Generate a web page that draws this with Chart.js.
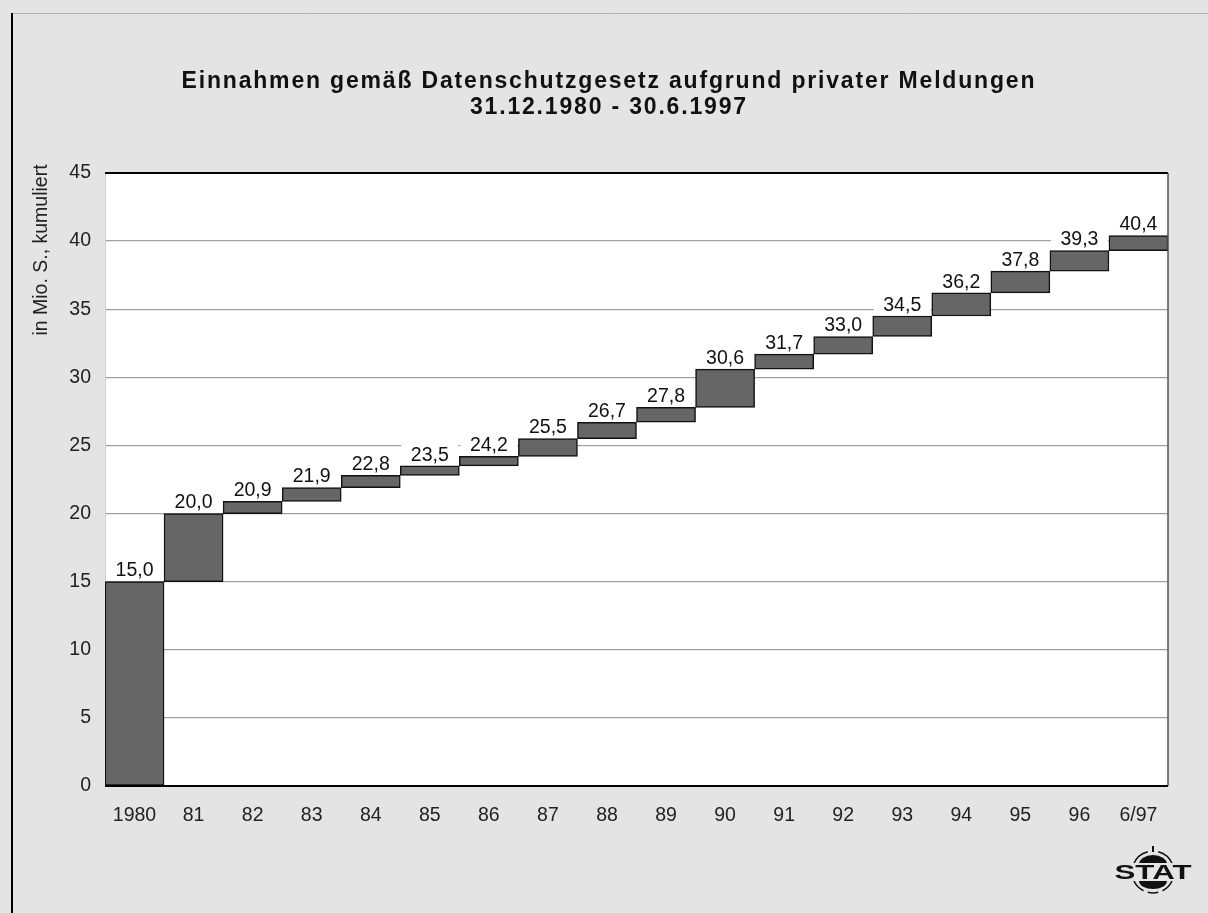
<!DOCTYPE html>
<html>
<head>
<meta charset="utf-8">
<script src="https://cdn.jsdelivr.net/npm/chart.js"></script>
<style>
  html, body { margin: 0; padding: 0; background: #e4e4e4; }
  #wrap { width: 1208px; height: 913px; position: relative; }
</style>
</head>
<body>
<div id="wrap"><canvas id="chart" width="1208" height="913"></canvas></div>
<script>
  // Data
  const categories = ['1980', '81', '82', '83', '84', '85', '86', '87', '88', '89', '90', '91', '92', '93', '94', '95', '96', '6/97'];
  const cumulative = [15.0, 20.0, 20.9, 21.9, 22.8, 23.5, 24.2, 25.5, 26.7, 27.8, 30.6, 31.7, 33.0, 34.5, 36.2, 37.8, 39.3, 40.4];
  const yTicks = [0, 5, 10, 15, 20, 25, 30, 35, 40, 45];
  const titleLines = ['Einnahmen gemäß Datenschutzgesetz aufgrund privater Meldungen', '31.12.1980 - 30.6.1997'];
  const yTitle = 'in Mio. S., kumuliert';

  // floating bars: from previous total to current total
  const ranges = cumulative.map((v, i) => [i === 0 ? 0 : cumulative[i - 1], v]);

  const FONT = '"Liberation Sans", Arial, sans-serif';

  // Background, frame, title, axis title, logo
  const decorPlugin = {
    id: 'decor',
    beforeDraw(chart) {
      const ctx = chart.ctx;
      const a = chart.chartArea;
      ctx.save();
      ctx.fillStyle = '#e4e4e4';
      ctx.fillRect(0, 0, chart.width, chart.height);
      ctx.fillStyle = '#ffffff';
      ctx.fillRect(a.left, a.top, a.right - a.left, a.bottom - a.top);
      // outer frame
      ctx.strokeStyle = '#b0b0b0';
      ctx.lineWidth = 1;
      ctx.beginPath();
      ctx.moveTo(11, 13.5);
      ctx.lineTo(chart.width, 13.5);
      ctx.stroke();
      ctx.strokeStyle = '#000';
      ctx.lineWidth = 2;
      ctx.beginPath();
      ctx.moveTo(12, 13);
      ctx.lineTo(12, chart.height);
      ctx.stroke();
      ctx.restore();
    },
    afterDraw(chart) {
      const ctx = chart.ctx;
      const a = chart.chartArea;
      ctx.save();
      // plot frame
      ctx.strokeStyle = '#000';
      ctx.lineWidth = 2;
      ctx.beginPath();
      ctx.moveTo(a.left, a.top);
      ctx.lineTo(a.right, a.top);
      ctx.stroke();
      ctx.strokeStyle = '#555';
      ctx.lineWidth = 1.5;
      ctx.beginPath();
      ctx.moveTo(a.right, a.top);
      ctx.lineTo(a.right, a.bottom);
      ctx.stroke();
      ctx.strokeStyle = '#000';
      ctx.lineWidth = 2;
      ctx.beginPath();
      ctx.moveTo(a.left, a.bottom);
      ctx.lineTo(a.right, a.bottom);
      ctx.stroke();

      // title, stretched with letter spacing to the original width
      ctx.fillStyle = '#111';
      ctx.font = 'bold 23px ' + FONT;
      ctx.textAlign = 'center';
      ctx.textBaseline = 'middle';
      ctx.letterSpacing = '0px';
      const w0 = ctx.measureText(titleLines[0]).width;
      const sp = Math.max(0, (855 - w0) / titleLines[0].length);
      ctx.letterSpacing = sp.toFixed(2) + 'px';
      ctx.fillText(titleLines[0], 608 + sp / 2, 82);
      ctx.fillText(titleLines[1], 608 + sp / 2, 108);
      ctx.letterSpacing = '0px';

      // y axis title
      ctx.font = '19.5px ' + FONT;
      ctx.fillStyle = '#222';
      ctx.translate(42, 250);
      ctx.rotate(-Math.PI / 2);
      ctx.fillText(yTitle, 0, 0);
      ctx.restore();

      // STAT logo
      ctx.save();
      const cx = 1153, cy = 872, r = 21;
      ctx.strokeStyle = '#111';
      ctx.lineWidth = 1.5;
      [[1.12, 1.42], [1.58, 1.88], [0.12, 0.35], [0.42, 0.58], [0.65, 0.88]].forEach(([s, e]) => {
        ctx.beginPath();
        ctx.arc(cx, cy, r, Math.PI * s, Math.PI * e);
        ctx.stroke();
      });
      ctx.fillStyle = '#111';
      ctx.fillRect(cx - 1, cy - 26, 2, 6);
      ctx.beginPath();
      ctx.ellipse(cx, cy - 8, 14, 9, 0, Math.PI, 0);
      ctx.fill();
      ctx.beginPath();
      ctx.ellipse(cx, cy + 9, 14, 8, 0, 0, Math.PI);
      ctx.fill();
      ctx.fillStyle = '#e4e4e4';
      ctx.fillRect(cx - 40, cy - 9, 80, 18);
      ctx.fillStyle = '#111';
      ctx.font = 'bold 20px ' + FONT;
      ctx.textAlign = 'center';
      ctx.textBaseline = 'middle';
      const lw = ctx.measureText('STAT').width;
      ctx.translate(cx, cy + 1);
      ctx.scale(77 / lw, 1);
      ctx.fillText('STAT', 0, 0);
      ctx.restore();
    }
  };

  // Value labels on white boxes above each bar
  const labelPlugin = {
    id: 'valueLabels',
    afterDatasetsDraw(chart) {
      const ctx = chart.ctx;
      const meta = chart.getDatasetMeta(0);
      ctx.save();
      ctx.font = '19.5px ' + FONT;
      ctx.textAlign = 'center';
      ctx.textBaseline = 'bottom';
      meta.data.forEach((bar, i) => {
        const top = Math.min(bar.y, bar.base);
        const w = bar.width;
        ctx.fillStyle = '#ffffff';
        ctx.fillRect(bar.x - w / 2 + 1, top - 22, w - 2, 21);
        ctx.fillStyle = '#111';
        ctx.fillText(cumulative[i].toFixed(1).replace('.', ','), bar.x, top - 1);
      });
      ctx.restore();
    }
  };

  const ctx = document.getElementById('chart').getContext('2d');
  const chart = new Chart(ctx, {
    type: 'bar',
    data: {
      labels: categories,
      datasets: [{
        data: ranges,
        backgroundColor: '#666666',
        borderColor: '#111111',
        borderWidth: 1.5,
        borderSkipped: false,
        barPercentage: 1.0,
        categoryPercentage: 1.0
      }]
    },
    options: {
      responsive: false,
      animation: false,
      devicePixelRatio: 1,
      layout: { padding: { top: 173, right: 40, left: 0, bottom: 0 } },
      plugins: {
        legend: { display: false },
        tooltip: { enabled: false },
        title: { display: false }
      },
      scales: {
        x: {
          grid: { display: false, drawTicks: false },
          border: { display: false },
          ticks: {
            color: '#222',
            font: { family: FONT, size: 19.5 },
            padding: 18,
            maxRotation: 0,
            autoSkip: false
          },
          afterFit(scale) { scale.height = 127; }
        },
        y: {
          min: 0,
          max: 45,
          afterBuildTicks(scale) { scale.ticks = yTicks.map(v => ({ value: v })); },
          grid: {
            color: '#a0a0a0',
            lineWidth: 1.3,
            drawTicks: false
          },
          border: { display: true, color: '#d0d0d0', width: 1 },
          ticks: {
            color: '#222',
            font: { family: FONT, size: 19.5 },
            padding: 14
          },
          afterFit(scale) { scale.width = 105; }
        }
      }
    },
    plugins: [decorPlugin, labelPlugin]
  });
</script>
</body>
</html>
